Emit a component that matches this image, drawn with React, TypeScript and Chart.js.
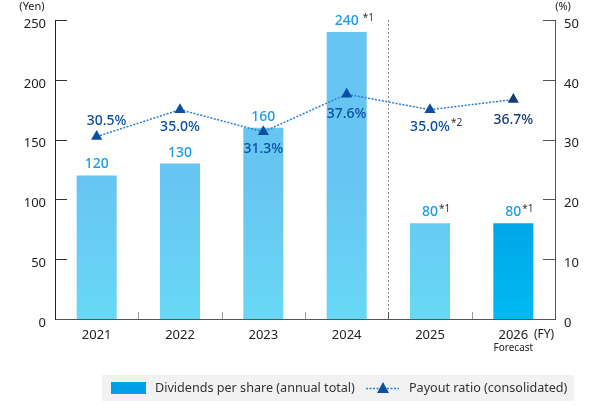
import React, { useEffect, useRef } from 'react';
import { Chart, registerables } from 'chart.js';

Chart.register(...registerables);

// Fiscal years and values
const years = ['2021', '2022', '2023', '2024', '2025', '2026'];
const dividends = [120, 130, 160, 240, 80, 80];
const payoutRatio = [30.5, 35.0, 31.3, 37.6, 35.0, 36.7];
const dividendNotes = ['', '', '', '*1', '*1', '*1'];
const ratioNotes = ['', '', '', '', '*2', ''];
const ratioLabelAbove = [true, false, false, false, false, false];
const yenTicks = [0, 50, 100, 150, 200, 250];
const pctTicks = [0, 10, 20, 30, 40, 50];
const forecastIndex = 5;
const firstPlanIndex = 4;

const FONT = '"Noto Sans", "DejaVu Sans", sans-serif';
const RATIO_BLUE = '#0b4fa3';
const RATIO_NAVY = '#153b7a';
const DIV_LABEL = '#1b9ce2';

function barGradient(chart: Chart, top: string, bottom: string) {
  const area = chart.chartArea;
  if (!area) return top;
  const g = chart.ctx.createLinearGradient(0, area.bottom, 0, area.top);
  g.addColorStop(0, bottom);
  g.addColorStop(0.45, top);
  g.addColorStop(1, top);
  return g;
}

const overlay = {
  id: 'overlay',
  beforeDatasetsDraw(chart: any) {
    const { ctx, chartArea, scales } = chart;
    const x = scales.x;
    const sepX = Math.round((x.getPixelForValue(firstPlanIndex - 1) + x.getPixelForValue(firstPlanIndex)) / 2) + 0.5;
    ctx.save();
    ctx.strokeStyle = '#8c8c8c';
    ctx.lineWidth = 1;
    ctx.setLineDash([2, 2]);
    ctx.beginPath();
    ctx.moveTo(sepX, chartArea.top);
    ctx.lineTo(sepX, chartArea.bottom);
    ctx.stroke();
    ctx.restore();
  },
  afterDatasetsDraw(chart: any) {
    const { ctx, chartArea, scales } = chart;
    const x = scales.x;
    const y = scales.y;
    const y1 = scales.y1;
    ctx.save();

    // inward tick marks on both value axes
    ctx.strokeStyle = '#333';
    ctx.lineWidth = 1;
    yenTicks.forEach((v) => {
      if (v === 0) return;
      const py = Math.round(y.getPixelForValue(v)) + 0.5;
      ctx.beginPath();
      ctx.moveTo(chartArea.left, py);
      ctx.lineTo(chartArea.left + 12, py);
      ctx.stroke();
    });
    ctx.strokeStyle = '#555';
    pctTicks.forEach((v) => {
      if (v === 0) return;
      const py = Math.round(y1.getPixelForValue(v)) + 0.5;
      ctx.beginPath();
      ctx.moveTo(chartArea.right - 12, py);
      ctx.lineTo(chartArea.right, py);
      ctx.stroke();
    });
    // category boundary ticks on the x axis
    for (let i = 0; i < years.length - 1; i++) {
      const px = Math.round((x.getPixelForValue(i) + x.getPixelForValue(i + 1)) / 2) + 0.5;
      ctx.strokeStyle = i === firstPlanIndex - 1 ? '#555' : '#9a9a9a';
      ctx.beginPath();
      ctx.moveTo(px, chartArea.bottom - 7);
      ctx.lineTo(px, chartArea.bottom);
      ctx.stroke();
    }

    // dividend value labels
    ctx.textBaseline = 'middle';
    dividends.forEach((v, i) => {
      const cx = x.getPixelForValue(i);
      const cy = y.getPixelForValue(v) - 11;
      ctx.font = `500 14px ${FONT}`;
      ctx.fillStyle = DIV_LABEL;
      ctx.textAlign = 'center';
      const txt = String(v);
      ctx.fillText(txt, cx, cy);
      if (dividendNotes[i]) {
        const w = ctx.measureText(txt).width;
        ctx.font = `10px ${FONT}`;
        ctx.fillStyle = '#333';
        ctx.textAlign = 'left';
        ctx.fillText(dividendNotes[i], cx + w / 2 + (i === 3 ? 4 : 1), cy - 3);
      }
    });

    // payout ratio labels
    payoutRatio.forEach((v, i) => {
      const cx = x.getPixelForValue(i);
      const py = y1.getPixelForValue(v);
      const txt = `${v.toFixed(1)}%`;
      ctx.font = `500 14px ${FONT}`;
      ctx.fillStyle = i === forecastIndex ? RATIO_NAVY : RATIO_BLUE;
      ctx.textAlign = 'center';
      const above = ratioLabelAbove[i];
      const lx = above ? cx + 10 : cx;
      const ly = above ? py - 16 : py + (i === 3 || i === 5 ? 20 : 17);
      ctx.fillText(txt, lx, ly);
      if (ratioNotes[i]) {
        const w = ctx.measureText(txt).width;
        ctx.font = `10px ${FONT}`;
        ctx.fillStyle = '#333';
        ctx.textAlign = 'left';
        ctx.fillText(ratioNotes[i], lx + w / 2 + 1, ly - 4);
      }
    });
    ctx.restore();
  },
  afterDraw(chart: any) {
    const { ctx, chartArea, scales } = chart;
    const x = scales.x;
    ctx.save();
    ctx.textBaseline = 'middle';
    ctx.fillStyle = '#222';

    // unit captions
    ctx.font = `11px ${FONT}`;
    ctx.textAlign = 'center';
    ctx.fillText('(Yen)', 32, 7);
    ctx.fillText('(%)', chartArea.right + 8, 7);
    ctx.font = `12px ${FONT}`;
    ctx.fillText('(FY)', chartArea.right - 11, 335);
    ctx.font = `10px ${FONT}`;
    ctx.fillText('Forecast', x.getPixelForValue(forecastIndex), 348);

    // legend
    ctx.fillStyle = '#f2f2f2';
    ctx.fillRect(102, 375, 472, 26);
    ctx.fillStyle = '#00a0e9';
    ctx.fillRect(111, 382, 35, 12);
    ctx.font = `12.6px ${FONT}`;
    ctx.fillStyle = '#333';
    ctx.textAlign = 'left';
    ctx.fillText('Dividends per share (annual total)', 155, 388.5);

    ctx.strokeStyle = '#2a7fd0';
    ctx.lineWidth = 1.5;
    ctx.setLineDash([2, 1.5]);
    ctx.beginPath();
    ctx.moveTo(366, 388.5);
    ctx.lineTo(399, 388.5);
    ctx.stroke();
    ctx.setLineDash([]);
    ctx.fillStyle = RATIO_BLUE;
    ctx.beginPath();
    ctx.moveTo(383, 382);
    ctx.lineTo(389, 393);
    ctx.lineTo(377, 393);
    ctx.closePath();
    ctx.fill();

    ctx.fillStyle = '#333';
    ctx.fillText('Payout ratio (consolidated)', 409, 388.5);
    ctx.restore();
  },
};

export default function App() {
  const canvasRef = useRef<HTMLCanvasElement | null>(null);

  useEffect(() => {
    if (!canvasRef.current) return;
    const chart = new Chart(canvasRef.current, {
      type: 'bar',
      data: {
        labels: years,
        datasets: [
          {
            type: 'line',
            label: 'Payout ratio (consolidated)',
            data: payoutRatio,
            yAxisID: 'y1',
            order: 0,
            borderColor: '#2a7fd0',
            borderWidth: 1.5,
            borderDash: [2, 1.5],
            pointStyle: 'triangle',
            pointRadius: 6.5,
            pointBorderWidth: 0,
            pointBackgroundColor: payoutRatio.map((_, i) => (i === forecastIndex ? RATIO_NAVY : RATIO_BLUE)),
            pointBorderColor: payoutRatio.map((_, i) => (i === forecastIndex ? RATIO_NAVY : RATIO_BLUE)),
            tension: 0,
          } as any,
          {
            type: 'bar',
            label: 'Dividends per share (annual total)',
            data: dividends,
            yAxisID: 'y',
            order: 1,
            categoryPercentage: 1,
            barPercentage: 0.48,
            borderWidth: 0,
            backgroundColor: (c: any) =>
              c.dataIndex === forecastIndex
                ? barGradient(c.chart, '#009fe8', '#00baf0')
                : barGradient(c.chart, '#67c6f1', '#68d8f6'),
          },
        ],
      },
      options: {
        responsive: false,
        animation: false,
        devicePixelRatio: 1,
        layout: { padding: { top: 20, left: 0, right: 0, bottom: 0 } },
        plugins: { legend: { display: false }, tooltip: { enabled: false } },
        scales: {
          x: {
            grid: { display: false, drawTicks: false },
            border: { display: true, color: '#555', width: 1 },
            ticks: { padding: 8, color: '#222', font: { family: FONT, size: 13 } },
            afterFit: (s: any) => {
              s.height = 86;
            },
          },
          y: {
            position: 'left',
            min: 0,
            max: 250,
            grid: { display: false, drawTicks: false },
            border: { display: true, color: '#222', width: 1 },
            ticks: { stepSize: 50, padding: 9, labelOffset: 4, color: '#222', font: { family: FONT, size: 13 } },
            afterFit: (s: any) => {
              s.width = 55;
            },
          },
          y1: {
            position: 'right',
            min: 0,
            max: 50,
            grid: { display: false, drawTicks: false },
            border: { display: true, color: '#555', width: 1 },
            ticks: { stepSize: 10, padding: 9, labelOffset: 4, color: '#222', font: { family: FONT, size: 13 } },
            afterFit: (s: any) => {
              s.width = 45;
            },
          },
        },
      },
      plugins: [overlay],
    });
    return () => chart.destroy();
  }, []);

  return (
    <div style={{ position: 'absolute', left: 0, top: 0, width: 600, height: 405, background: '#fff' }}>
      <canvas ref={canvasRef} width={600} height={405} />
    </div>
  );
}
